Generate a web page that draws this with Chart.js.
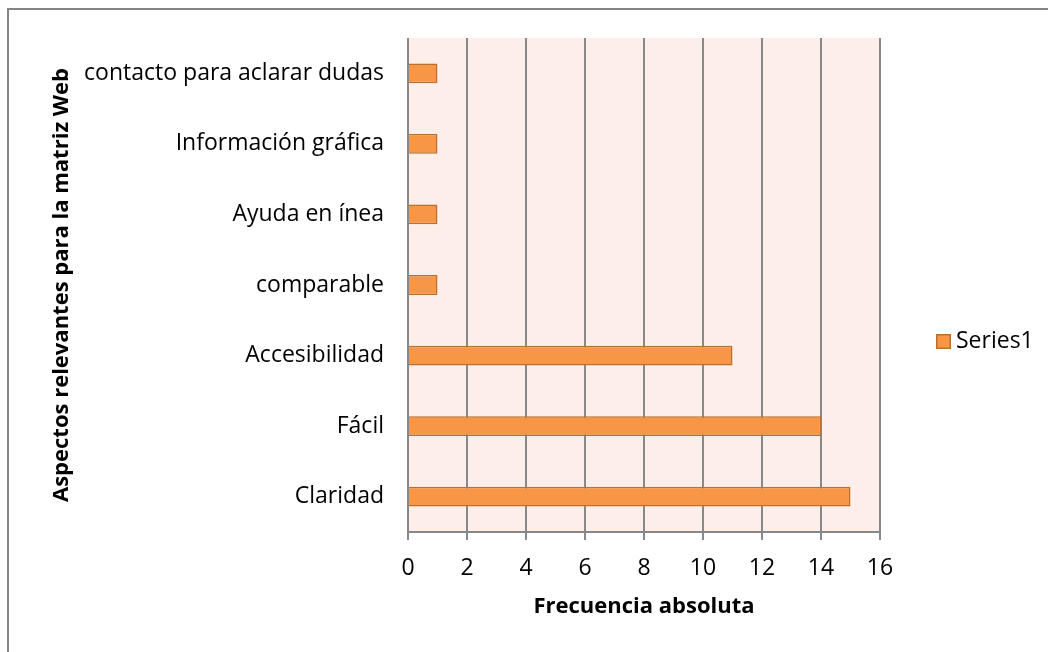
<!DOCTYPE html>
<html>
<head>
<meta charset="utf-8">
<script src="https://cdn.jsdelivr.net/npm/chart.js@4/dist/chart.umd.min.js"></script>
<style>
html,body{margin:0;padding:0;background:#fff;}
#wrap{width:1048px;height:652px;position:relative;}
</style>
</head>
<body>
<div id="wrap"><canvas id="c" width="1048" height="652"></canvas></div>
<script>
const categories = ["Claridad", "Fácil", "Accesibilidad", "comparable", "Ayuda en ínea", "Información gráfica", "contacto para aclarar dudas"];
const seriesName = "Series1";
const seriesValues = [15, 14, 11, 1, 1, 1, 1];
const xTickMin = 0;
const xTickMax = 16;
const xTickStep = 2;
const yTitle = "Aspectos relevantes para la matriz Web";
const xTitle = "Frecuencia absoluta";

const FONT = "'Open Sans', sans-serif";
const GRID = "#888888";

const bgPlugin = {
  id: 'bg',
  beforeDraw(chart) {
    const {ctx, chartArea: a} = chart;
    ctx.save();
    ctx.fillStyle = '#ffffff';
    ctx.fillRect(0, 0, chart.width, chart.height);
    ctx.fillStyle = '#FDEEE9';
    ctx.fillRect(a.left, a.top, a.right - a.left, a.bottom - a.top);
    // outer frame
    ctx.strokeStyle = '#868686';
    ctx.lineWidth = 2;
    ctx.beginPath();
    ctx.moveTo(8, chart.height + 2);
    ctx.lineTo(8, 9);
    ctx.lineTo(chart.width + 2, 9);
    ctx.stroke();
    ctx.restore();
  },
  afterDraw(chart) {
    const {ctx} = chart;
    const ds = chart.data.datasets[0];
    ctx.save();
    const bx = 936, by = 334, bs = 15;
    ctx.fillStyle = ds.backgroundColor;
    ctx.fillRect(bx, by, bs, bs);
    ctx.strokeStyle = ds.borderColor;
    ctx.lineWidth = 1.5;
    ctx.strokeRect(bx + 0.75, by + 0.75, bs - 1.5, bs - 1.5);
    ctx.fillStyle = '#000';
    ctx.font = "23px " + FONT;
    ctx.textBaseline = 'middle';
    ctx.textAlign = 'left';
    ctx.fillText(ds.label, 956, 341);
    ctx.restore();
  }
};

new Chart(document.getElementById('c'), {
  type: 'bar',
  data: {
    labels: categories,
    datasets: [{
      label: seriesName,
      data: seriesValues,
      backgroundColor: '#F79646',
      borderColor: '#B9702F',
      borderWidth: 1.5,
      categoryPercentage: 1,
      barPercentage: 0.28
    }]
  },
  options: {
    indexAxis: 'y',
    responsive: false,
    animation: false,
    devicePixelRatio: 1,
    layout: {padding: {left: 0, right: 168, top: 38, bottom: 30}},
    plugins: {legend: {display: false}, tooltip: {enabled: false}},
    scales: {
      x: {
        min: xTickMin, max: xTickMax,
        ticks: {stepSize: xTickStep, color: '#000', font: {family: FONT, size: 23}, padding: 15},
        grid: {color: GRID, lineWidth: 2, tickLength: 8, drawTicks: true},
        border: {display: true, color: GRID, width: 2},
        title: {display: true, text: xTitle, color: '#000', font: {family: FONT, size: 22, weight: 'bold'}, padding: {top: 0, bottom: 2}},
        afterFit(s) { s.height = 90; }
      },
      y: {
        reverse: true,
        ticks: {color: '#000', font: {family: FONT, size: 23}, padding: 24},
        grid: {display: false, drawTicks: false},
        border: {display: false},
        title: {display: true, text: yTitle, color: '#000', font: {family: FONT, size: 22, weight: 'bold'}, padding: {top: 49, bottom: 0}},
        afterFit(s) { s.width = 408; }
      }
    }
  },
  plugins: [bgPlugin]
});
</script>
</body>
</html>
